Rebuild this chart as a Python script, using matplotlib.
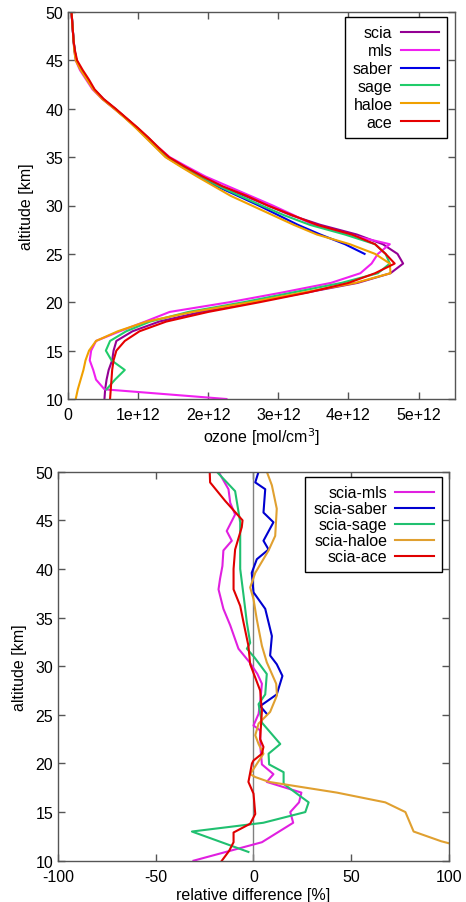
#! /usr/bin/env python3

import sys

import numpy as np
import matplotlib
matplotlib.use('Agg')
import matplotlib.pyplot as plt

# ozone number density profiles, units of 1e12 mol/cm3
alt_hi = [50, 49, 48, 47, 46, 45, 44, 43, 42, 41, 40, 39, 38, 37, 36, 35, 34, 33, 32,
          31, 30, 29, 28, 27, 26, 25]
alt_lo = [24, 23, 22, 21, 20, 19, 18, 17, 16, 15, 14, 13, 12, 11, 10]

scia = [.05, .06, .07, .08, .095, .12, .19, .28, .37, .50, .67, .83, .99, 1.14, 1.28, 1.43, 1.66, 1.90, 2.18,
        2.52, 2.85, 3.18, 3.60, 4.12, 4.49, 4.70,
        4.78, 4.60, 4.13, 3.40, 2.65, 1.90, 1.30, 0.92, 0.69, 0.65, 0.63, 0.58, 0.55, 0.53, 0.52]
mls = [.05, .06, .07, .08, .09, .11, .17, .26, .35, .49, .66, .83, .99, 1.14, 1.29, 1.45, 1.70, 1.96, 2.28,
       2.60, 2.92, 3.22, 3.50, 4.00, 4.59, 4.42,
       4.33, 4.17, 3.75, 3.05, 2.30, 1.45, 1.10, 0.74, 0.40, 0.33, 0.31, 0.36, 0.40, 0.52, 2.26]
saber = [.05, .06, .07, .08, .095, .12, .19, .28, .37, .50, .67, .83, .98, 1.12, 1.26, 1.40, 1.63, 1.86, 2.12,
         2.42, 2.72, 3.00, 3.28, 3.60, 3.95, 4.23]
sage = [.05, .06, .07, .08, .095, .12, .19, .28, .37, .50, .67, .83, .99, 1.14, 1.28, 1.42, 1.65, 1.89, 2.15,
        2.45, 2.76, 3.08, 3.45, 3.95, 4.38, 4.53,
        4.59, 4.42, 3.90, 3.20, 2.50, 1.72, 1.17, 0.83, 0.60, 0.54, 0.62, 0.81, 0.67, 0.55]
haloe = [.05, .06, .07, .08, .09, .11, .18, .27, .36, .49, .66, .82, .97, 1.11, 1.25, 1.39, 1.61, 1.84, 2.08,
         2.32, 2.62, 2.92, 3.22, 3.55, 4.02, 4.38,
         4.59, 4.60, 4.10, 3.35, 2.60, 1.78, 1.12, 0.71, 0.40, 0.30, 0.25, 0.22, 0.18, 0.14, 0.11]
ace = [.05, .06, .07, .08, .10, .13, .21, .30, .38, .51, .68, .84, 1.00, 1.15, 1.29, 1.44, 1.67, 1.92, 2.20,
       2.55, 2.85, 3.20, 3.55, 4.05, 4.38, 4.53,
       4.66, 4.38, 4.00, 3.42, 2.73, 2.00, 1.40, 1.02, 0.81, 0.69, 0.65, 0.63, 0.62, 0.61, 0.60]

# relative differences [%]
alt_mls = [50, 48.2, 46.8, 45.6, 43.9, 42.9, 41.9, 40.3, 39.0, 37.9, 35.9, 34.2, 31.8, 30.4, 29.2, 28.2,
           26.5, 25.1, 23.9, 23.4, 21.5, 19.9, 18.9, 18.1, 17.0, 16.0, 15.0, 13.9, 11.9, 10]
d_mls = [-17.9, -12.8, -11.9, -9.4, -13.7, -11.1, -15.4, -15.9, -17.1, -17.9, -15.4, -11.9, -7.7, -2.0, 2.0, 4.3,
         3.5, 2.6, 0.0, 3.4, 3.6, 4.3, 10.2, 6.8, 24.5, 23.3, 18.8, 20.3, 4.3, -30.7]
alt_saber = [50, 48.9, 48.2, 45.8, 44.8, 42.9, 42.0, 41.0, 39.6, 37.6, 35.9, 33.1, 31.1, 30.2, 29.0,
             27.1, 25.9, 25.1]
d_saber = [2.6, 0.9, 6.0, 5.1, 10.2, 5.1, 7.7, 1.7, -0.9, 0.0, 6.0, 9.4, 8.5, 11.9, 14.8,
           11.9, 3.4, 6.8]
alt_sage = [50, 48.0, 44.8, 40.0, 37.3, 34.5, 32.4, 31.8, 30.9, 29.2, 27.1, 26.1, 24.2, 22.0, 21.0,
            19.9, 19.1, 17.9, 16.0, 15.0, 13.9, 13.0, 10.9]
d_sage = [-18.8, -9.4, -6.8, -6.8, -5.1, -3.4, -1.7, -3.4, 0.5, 6.8, 6.0, 2.6, 4.3, 13.7, 7.7,
          8.0, 15.4, 15.4, 28.2, 26.5, 5.0, -31.5, -2.6]
alt_haloe = [50, 48.6, 46.2, 43.4, 41.9, 39.6, 38.1, 36.9, 34.8, 32.1, 30.4, 28.2, 27.0, 25.3, 24.1,
             22.9, 22.0, 21.0, 18.9, 18.6, 18.1, 17.0, 16.0, 15.0, 13.0, 12.0, 11.0, 10.0]
d_haloe = [6.8, 9.4, 11.9, 11.1, 7.7, 0.9, -1.7, 0.0, 1.7, 4.3, 6.8, 11.6, 12.0, 8.5, 2.6,
           0.9, 2.6, 5.1, -1.7, 0.9, 8.0, 42.7, 67.4, 77.7, 81.9, 96.0, 115.0, 130.0]
alt_ace = [50, 48.9, 47.0, 45.0, 44.3, 42.0, 40.0, 37.9, 36.2, 34.5, 32.1, 30.2, 27.5, 25.4, 22.5,
           21.7, 21.0, 20.3, 20.0, 18.1, 16.9, 14.8, 13.8, 12.9, 11.9, 11.0, 10.0]
d_ace = [-22.4, -22.2, -14.5, -5.6, -6.0, -9.4, -10.2, -10.2, -6.8, -5.1, -2.6, -1.7, 3.4, 4.3, 3.4,
         5.1, 4.3, 0.0, -0.8, -2.6, 0.0, 0.9, -1.7, -10.2, -10.2, -12.5, -16.2]


def style_axes (ax):
	for s in ax.spines.values():
		s.set_color('#555555')
		s.set_linewidth(1.0)
	ax.tick_params(direction='in', length=5, width=1, color='#555555',
	               top=True, right=True, labelsize=11.5, labelcolor='black')
	ax.tick_params(axis='x', pad=6)


def main (argv):
	plt.rcParams['font.family'] = ['Liberation Sans', 'DejaVu Sans']
	plt.rcParams['axes.unicode_minus'] = False
	fig = plt.figure(figsize=(4.66, 9.03), dpi=100)

	# upper panel: profiles
	ax = fig.add_axes([68/466, 1-400/903, 387/466, 387/903])
	alt_all = alt_hi + alt_lo
	ax.plot(np.array(scia)*1e12, alt_all, color='#940094', lw=1.5, label='scia')
	ax.plot(np.array(mls)*1e12, alt_all, color='#f020f0', lw=1.5, label='mls')
	ax.plot(np.array(saber)*1e12, alt_hi, color='#0000e6', lw=1.5, label='saber')
	ax.plot(np.array(sage)*1e12, alt_all[:len(sage)], color='#20cc6a', lw=1.5, label='sage')
	ax.plot(np.array(haloe)*1e12, alt_all, color='#f0a000', lw=1.5, label='haloe')
	ax.plot(np.array(ace)*1e12, alt_all, color='#e60000', lw=1.5, label='ace')
	ax.set_xlim(0, 5.52e12)
	ax.set_ylim(10, 50)
	ax.set_xticks([0, 1e12, 2e12, 3e12, 4e12, 5e12])
	ax.set_xticklabels(['0', '1e+12', '2e+12', '3e+12', '4e+12', '5e+12'])
	ax.set_yticks(range(10, 51, 5))
	style_axes(ax)
	ax.set_xlabel('ozone [mol/cm$^3$]', fontsize=11.5, labelpad=2)
	ax.set_ylabel('altitude [km]', fontsize=11.5, labelpad=8)
	leg = ax.legend(loc='upper right', bbox_to_anchor=(0.979, 0.986), borderaxespad=0,
	                markerfirst=False, fancybox=False, framealpha=1, edgecolor='black',
	                fontsize=11.5, handlelength=2.4, handletextpad=0.5, labelspacing=0.18,
	                borderpad=0.5)
	leg.get_frame().set_linewidth(1.0)

	# lower panel: relative differences
	ax = fig.add_axes([58/466, 1-861.7/903, 391/466, 389/903])
	ax.axvline(0, color='#808080', lw=1.0)
	ax.plot(d_mls, alt_mls, color='#e020e0', lw=1.5, label='scia-mls')
	ax.plot(d_saber, alt_saber, color='#0000d0', lw=1.5, label='scia-saber')
	ax.plot(d_sage, alt_sage, color='#20c070', lw=1.5, label='scia-sage')
	ax.plot(d_haloe, alt_haloe, color='#e0a030', lw=1.5, label='scia-haloe')
	ax.plot(d_ace, alt_ace, color='#e00000', lw=1.5, label='scia-ace')
	ax.set_xlim(-100, 100)
	ax.set_ylim(10, 50)
	ax.set_xticks([-100, -50, 0, 50, 100])
	ax.set_yticks(range(10, 51, 5))
	style_axes(ax)
	ax.set_xlabel('relative difference [%]', fontsize=11.5, labelpad=2)
	ax.set_ylabel('altitude [km]', fontsize=11.5, labelpad=6)
	leg = ax.legend(loc='upper right', bbox_to_anchor=(0.981, 0.9856), borderaxespad=0,
	                markerfirst=False, fancybox=False, framealpha=1, edgecolor='black',
	                fontsize=11.5, handlelength=2.4, handletextpad=0.5, labelspacing=0.06,
	                borderpad=0.5)
	leg.get_frame().set_linewidth(1.0)

	fig.savefig('out.png', dpi=100)

if __name__ == "__main__":
	main(sys.argv[1:])
